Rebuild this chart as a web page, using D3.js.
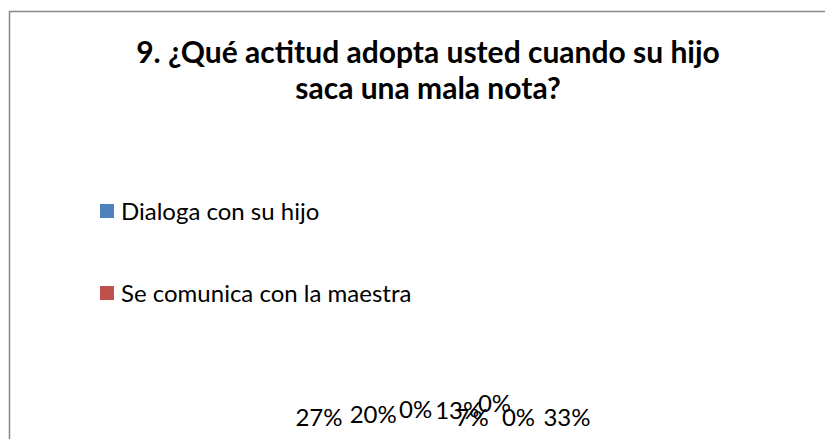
<!DOCTYPE html>
<html>
<head>
<meta charset="utf-8">
<script src="https://cdn.jsdelivr.net/npm/d3@7"></script>
<style>
  html, body { margin: 0; padding: 0; background: #fff; }
  svg { display: block; }
  text { font-family: Lato, "Open Sans", sans-serif; fill: #000; }
</style>
</head>
<body>
<svg id="chart" width="825" height="439"></svg>
<script>
// ---- data ----
const titleLines = ["9. ¿Qué actitud adopta usted cuando su hijo", "saca una mala nota?"];
const legendCategories = ["Dialoga con su hijo", "Se comunica con la maestra"];
const legendColors = ["#4F81BD", "#C0504D"];
const sliceValues = [27, 20, 0, 13, 7, 0, 0, 33];   // percentages shown as labels

// ---- layout ----
const svg = d3.select("#chart");

// outer frame (right and bottom edges fall outside the window)
svg.append("rect")
  .attr("x", 9.5).attr("y", 11.5)
  .attr("width", 830).attr("height", 440)
  .attr("fill", "#fff").attr("stroke", "#868686").attr("stroke-width", 1.5);

// title
const title = svg.append("text")
  .attr("text-anchor", "middle")
  .attr("font-weight", "bold")
  .attr("font-size", 30);
titleLines.forEach((t, i) => {
  title.append("tspan").attr("x", 428).attr("y", 63 + i * 36).text(t);
});

// legend
const legendY = d3.scalePoint().domain(legendCategories).range([211, 293]);
const lg = svg.append("g").selectAll("g").data(legendCategories).join("g")
  .attr("transform", d => `translate(100,${legendY(d)})`);
lg.append("rect").attr("x", 0).attr("y", -7).attr("width", 14).attr("height", 14)
  .attr("fill", (d, i) => legendColors[i]);
lg.append("text").attr("x", 21).attr("y", 8.5).attr("font-size", 24).text(d => d);

// pie data labels (the pie itself has collapsed to nothing)
const pie = d3.pie().sort(null).value(d => d);
const arcs = pie(sliceValues);
const total = d3.sum(sliceValues);
const mid = arcs.map(a => (a.startAngle + a.endAngle) / 2 / (2 * Math.PI));
const x = d3.scaleLinear().domain([mid[0], mid[mid.length - 1]]).range([319, 567]);
// collision nudges applied by the label placement
const nudgeX = [0, -29, -22, -2, -24, -14, 10, 0];
const nudgeY = [0, -3, -8, -7, 0, -14, 0, 0];
svg.append("g").selectAll("text").data(arcs).join("text")
  .attr("text-anchor", "middle")
  .attr("font-size", 24)
  .attr("x", (d, i) => x(mid[i]) + nudgeX[i])
  .attr("y", (d, i) => 426 + nudgeY[i])
  .text(d => Math.round(d.data / total * 100) + "%");
</script>
</body>
</html>
